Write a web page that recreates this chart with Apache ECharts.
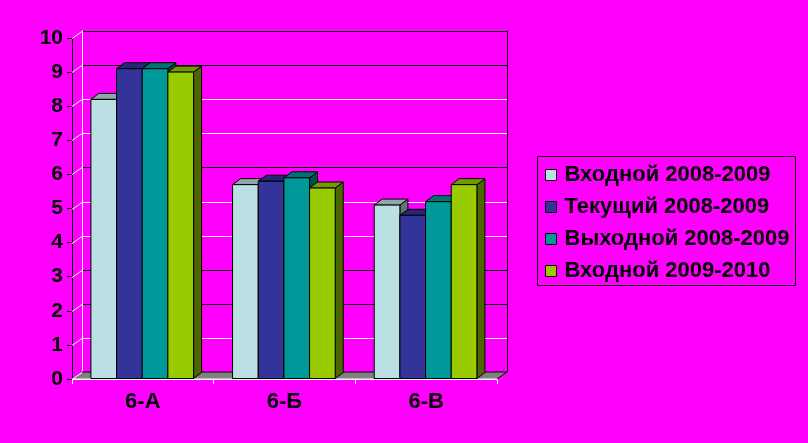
<!DOCTYPE html>
<html>
<head>
<meta charset="utf-8">
<style>html,body{margin:0;padding:0;background:#FF00FF;}#c{width:808px;height:443px;}</style>
<script src="https://cdn.jsdelivr.net/npm/echarts@6/dist/echarts.min.js"></script>
</head>
<body>
<div id="c"></div>
<script>
var categories = ['6-А', '6-Б', '6-В'];
var seriesNames = ['Входной 2008-2009', 'Текущий 2008-2009', 'Выходной 2008-2009', 'Входной 2009-2010'];
var vhod0809 = [8.2, 5.7, 5.1];
var tek0809 = [9.1, 5.8, 4.8];
var vyh0809 = [9.1, 5.9, 5.2];
var vhod0910 = [9.0, 5.6, 5.7];
var yTicks = [0, 1, 2, 3, 4, 5, 6, 7, 8, 9, 10];

var seriesValues = [vhod0809, tek0809, vyh0809, vhod0910];
var frontColors = ['#BBE0E3', '#333399', '#009999', '#99CC00'];
var topColors = ['#8FA8AB', '#262673', '#007373', '#739900'];
var sideColors = ['#627577', '#1A1A4D', '#004D4D', '#4D6600'];
var splitColors = ['#000', '#fff', '#000', '#000', '#fff', '#fff', '#000', '#fff', '#fff', '#000', '#000'];
var FONT = '"Liberation Sans", Arial, sans-serif';
var emboss = {color: '#000', fontWeight: 'bold', fontFamily: FONT, textShadowColor: '#fff', textShadowOffsetX: -1, textShadowOffsetY: -1, textShadowBlur: 0};
var DX = 8, DY = 6;

function barRenderer(si) {
  return function (params, api) {
    var c = api.value(0), v = api.value(1);
    var base = api.coord([c, 0]);
    var top = api.coord([c, v]);
    var band = api.size([1, 0])[0];
    var bw = band * 0.1812;
    var x0 = base[0] - 2 * bw + si * bw - 0.6;
    var yt = top[1], yb = base[1] - 0.5;
    var st = {stroke: '#000', lineWidth: 1};
    return {
      type: 'group',
      children: [
        {type: 'polygon', shape: {points: [[x0 + bw, yb], [x0 + bw, yt], [x0 + bw + DX, yt - DY], [x0 + bw + DX, yb - DY]]},
          style: Object.assign({fill: sideColors[si]}, st)},
        {type: 'polygon', shape: {points: [[x0, yt], [x0 + bw, yt], [x0 + bw + DX, yt - DY], [x0 + DX, yt - DY]]},
          style: Object.assign({fill: topColors[si]}, st)},
        {type: 'rect', shape: {x: x0, y: yt, width: bw, height: yb - yt},
          style: Object.assign({fill: frontColors[si]}, st)}
      ]
    };
  };
}

var series = [];
series.push({
  type: 'custom', name: 'backgrid', xAxisIndex: 1, yAxisIndex: 1, z: 0, silent: true,
  data: yTicks.map(function (t) { return [0, t]; }),
  renderItem: function (params, api) {
    var cs = params.coordSys;
    var t = api.value(1);
    var y = Math.round(api.coord([0, t])[1]) + 0.5;
    return {type: 'line', shape: {x1: cs.x, y1: y, x2: cs.x + cs.width, y2: y}, style: {stroke: splitColors[t], lineWidth: 1}};
  }
});
series.push({
  type: 'custom', name: 'floor', xAxisIndex: 0, yAxisIndex: 0, z: 1, silent: true,
  data: [[0, 0]],
  renderItem: function (params, api) {
    var cs = params.coordSys;
    var x = cs.x, y = cs.y + cs.height, w = cs.width;
    return {type: 'group', children: [
      {type: 'polygon', shape: {points: [[x, y], [x + w, y], [x + w + 10, y - 7], [x + 10, y - 7]]}, style: {fill: '#808080'}},
      {type: 'line', shape: {x1: x + 10, y1: y - 7, x2: x + w + 10, y2: y - 7}, style: {stroke: '#000', lineWidth: 1}},
      {type: 'line', shape: {x1: x + w, y1: y, x2: x + w + 10, y2: y - 7}, style: {stroke: '#000', lineWidth: 1}},
      {type: 'line', shape: {x1: x, y1: y, x2: x + w, y2: y}, style: {stroke: '#fff', lineWidth: 1}}
    ]};
  }
});
series.push({
  type: 'custom', name: 'walldiag', xAxisIndex: 0, yAxisIndex: 0, z: 1, silent: true,
  data: yTicks.map(function (t) { return [0, t]; }),
  renderItem: function (params, api) {
    var cs = params.coordSys;
    var p = api.coord([0, api.value(1)]);
    var y = Math.round(p[1]) + 0.5;
    return {type: 'line', shape: {x1: cs.x, y1: y, x2: cs.x + 10, y2: y - 7}, style: {stroke: '#fff', lineWidth: 1}};
  }
});
seriesNames.forEach(function (n, si) {
  series.push({
    type: 'custom', name: n, xAxisIndex: 0, yAxisIndex: 0, z: 3,
    itemStyle: {color: frontColors[si]},
    encode: {x: 0, y: 1},
    data: categories.map(function (c, i) { return [i, seriesValues[si][i]]; }),
    renderItem: barRenderer(si)
  });
});

var chart = echarts.init(document.getElementById('c'), null, {renderer: 'canvas'});
chart.setOption({
  backgroundColor: '#FF00FF',
  animation: false,
  grid: [
    {left: 72, right: 311, top: 38, bottom: 64},
    {left: 82, right: 301, top: 31, bottom: 71}
  ],
  xAxis: [
    {type: 'category', gridIndex: 0, data: categories,
      axisLine: {lineStyle: {color: '#fff', width: 1}},
      axisTick: {show: true, length: 5, lineStyle: {color: '#fff'}},
      axisLabel: Object.assign({fontSize: 22, margin: 12}, emboss),
      splitLine: {show: false}},
    {type: 'category', gridIndex: 1, data: categories, show: false}
  ],
  yAxis: [
    {type: 'value', gridIndex: 0, min: 0, max: 10, interval: 1,
      axisLine: {show: true, lineStyle: {color: '#000', width: 1}},
      axisTick: {show: true, length: 5, lineStyle: {color: '#000'}},
      axisLabel: Object.assign({fontSize: 21, margin: 9}, emboss),
      splitLine: {show: false}},
    {type: 'value', gridIndex: 1, min: 0, max: 10, interval: 1,
      axisLine: {show: true, lineStyle: {color: '#fff', width: 1}},
      axisTick: {show: false}, axisLabel: {show: false},
      splitLine: {show: false}},
    {type: 'value', gridIndex: 1, min: 0, max: 10, interval: 1, position: 'right',
      axisLine: {show: true, lineStyle: {color: '#000', width: 1}},
      axisTick: {show: false}, axisLabel: {show: false}, splitLine: {show: false}}
  ],
  legend: {
    orient: 'vertical', left: 545, top: 164, padding: 0,
    data: seriesNames, icon: 'rect', itemWidth: 11, itemHeight: 11, itemGap: 10,
    itemStyle: {borderColor: '#000', borderWidth: 1},
    textStyle: Object.assign({fontSize: 22, lineHeight: 22, padding: [0, 0, 0, 3]}, emboss),
    selectedMode: false
  },
  graphic: [
    {type: 'rect', z: 10, silent: true, shape: {x: 537.5, y: 156.5, width: 258, height: 129}, style: {fill: 'none', stroke: '#000', lineWidth: 1}}
  ],
  series: series
});
</script>
</body>
</html>
